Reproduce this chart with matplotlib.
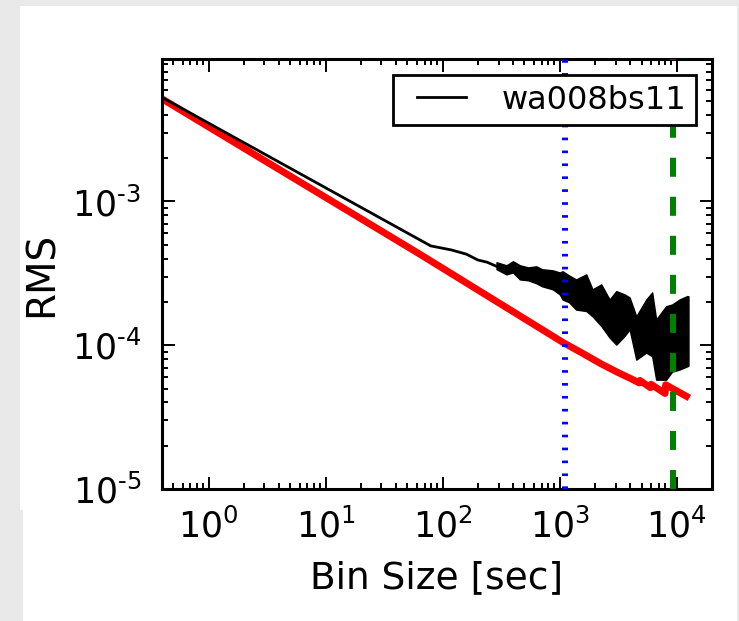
import matplotlib
matplotlib.use("Agg")
import matplotlib.pyplot as plt
from matplotlib.patches import Rectangle
from matplotlib.ticker import LogLocator, NullFormatter, FuncFormatter
from matplotlib.legend_handler import HandlerLine2D
import math

# ---- data ----
# black curve (smooth part)
bin_line = [0.4, 79.1, 118.9, 159.6, 199.5, 239.9, 288.4, 350.8, 398.1, 457.1,
            537.0, 631.0, 707.9, 871.0, 1000.0]
rms_line = [5.3e-3, 4.91e-4, 4.60e-4, 4.30e-4, 3.92e-4, 3.78e-4, 3.54e-4, 3.32e-4,
            3.48e-4, 3.21e-4, 3.11e-4, 3.06e-4, 2.92e-4, 2.87e-4, 2.65e-4]

# black curve (noisy part: envelope of the scatter)
bin_band = [288.4, 350.8, 398.1, 457.1, 537.0, 631.0, 707.9, 871.0, 1000, 1059,
            1202, 1380, 1687, 1905, 2265, 2667, 3041, 3581, 3954, 4508, 5483,
            6166, 6668, 8110, 9120, 10544, 12303, 12589]
rms_upper = [3.78e-4, 3.60e-4, 3.84e-4, 3.60e-4, 3.48e-4, 3.54e-4, 3.38e-4, 3.32e-4,
             3.21e-4, 3.27e-4, 3.06e-4, 2.87e-4, 3.11e-4, 2.45e-4, 2.65e-4, 2.08e-4,
             2.38e-4, 2.26e-4, 2.15e-4, 1.59e-4, 2.08e-4, 2.33e-4, 1.51e-4, 1.87e-4,
             1.92e-4, 2.08e-4, 2.20e-4, 2.19e-4]
rms_lower = [3.38e-4, 3.11e-4, 3.21e-4, 2.87e-4, 2.83e-4, 2.70e-4, 2.57e-4, 2.45e-4,
             2.26e-4, 2.08e-4, 1.99e-4, 1.77e-4, 1.73e-4, 1.59e-4, 1.36e-4, 1.13e-4,
             1.01e-4, 1.16e-4, 1.29e-4, 7.94e-5, 8.89e-5, 8.38e-5, 5.76e-5, 5.76e-5,
             6.55e-5, 6.77e-5, 7.14e-5, 7.21e-5]

# red expected curve
bin_expected = [0.4, 63.8, 1079, 1585, 2239, 3162, 3981, 4786, 4842, 5957, 6025,
                7943, 8035, 12823]
rms_expected = [5.18e-3, 4.30e-4, 1.04e-4, 8.75e-5, 7.45e-5, 6.45e-5, 5.90e-5,
                5.47e-5, 5.69e-5, 5.07e-5, 5.35e-5, 4.62e-5, 5.31e-5, 4.30e-5]

vline_blue = 1100
vline_green = 9350
series_label = "wa008bs11"

# ---- style ----
plt.rcParams["font.family"] = ["DejaVu Sans"]
plt.rcParams["mathtext.fontset"] = "dejavusans"
plt.rcParams["axes.unicode_minus"] = False
plt.rcParams["lines.scale_dashes"] = False

W, H = 739, 621
BG = "#e9e9e9"
fig = plt.figure(figsize=(W / 100, H / 100), dpi=100, facecolor=BG)
fig.patches.append(Rectangle((20 / W, 0), 717 / W, 615 / H, transform=fig.transFigure,
                             facecolor="white", edgecolor="none", zorder=-10))
fig.patches.append(Rectangle((0, 0), 23 / W, 111 / H, transform=fig.transFigure,
                             facecolor=BG, edgecolor="none", zorder=-9))

ax = fig.add_axes([162 / W, 1 - 489 / H, 550 / W, 430 / H])

ax.fill_between(bin_band, rms_lower, rms_upper, color="black", lw=1.0, zorder=2)
ax.plot(bin_line, rms_line, color="black", lw=2.0, label=series_label, zorder=3)
ax.plot(bin_expected, rms_expected, color="red", lw=5.0, solid_capstyle="butt",
        solid_joinstyle="round", zorder=2.5)
ax.axvline(vline_blue, color="blue", lw=4.3, dashes=(1.9, 7.4), zorder=4)
ax.axvline(vline_green, color="green", lw=4.3, dashes=(13.7, 14.4), zorder=4)

ax.set_xscale("log")
ax.set_yscale("log")
ax.set_xlim(0.4, 2e4)
ax.set_ylim(1e-5, 9.8e-3)

ax.xaxis.set_minor_locator(LogLocator(base=10, subs=range(2, 10), numticks=20))
ax.yaxis.set_minor_locator(LogLocator(base=10, subs=range(2, 10), numticks=20))
ax.xaxis.set_minor_formatter(NullFormatter())
ax.yaxis.set_minor_formatter(NullFormatter())


def sci_fmt(v, pos):
    e = int(round(math.log10(v)))
    s = str(e).replace("-", "\u2010")
    return r"$10^{%s}$" % s


ax.xaxis.set_major_formatter(FuncFormatter(sci_fmt))
ax.yaxis.set_major_formatter(FuncFormatter(sci_fmt))

ax.tick_params(which="both", direction="in", top=True, right=True, width=1.4, colors="black")
ax.tick_params(which="major", length=9, labelsize=25)
ax.tick_params(axis="x", which="major", pad=14)
ax.tick_params(axis="y", which="major", pad=15)
ax.tick_params(which="minor", length=4.5)
for s in ax.spines.values():
    s.set_linewidth(2.2)

ax.set_xlabel("Bin Size [sec]", fontsize=27, labelpad=11)
ax.set_ylabel("RMS", fontsize=28, labelpad=8)


class ShiftedLine(HandlerLine2D):
    def create_artists(self, legend, orig_handle, xdescent, ydescent, width, height,
                       fontsize, trans):
        shift = 0.44 * fontsize
        return super().create_artists(legend, orig_handle, xdescent - shift, ydescent,
                                      width - shift, height, fontsize, trans)


leg = ax.legend(loc="upper right", fontsize=23, fancybox=False, framealpha=1,
                edgecolor="black", handlelength=1.97, handletextpad=1.13,
                borderaxespad=0.5, borderpad=0.3,
                handler_map={matplotlib.lines.Line2D: ShiftedLine()})
leg.get_frame().set_linewidth(2.0)
leg.set_zorder(10)

fig.savefig("out.png", dpi=100, facecolor=fig.get_facecolor())
